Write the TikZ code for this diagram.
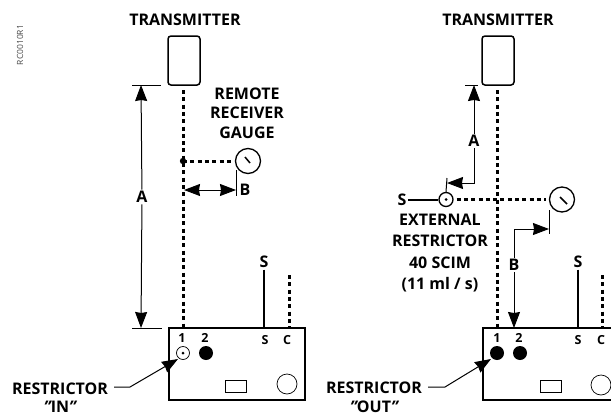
\documentclass[tikz,border=0pt]{standalone}
\usepackage{fontspec}
\setmainfont{Open Sans}
\usepackage{tkz-euclide}
\usetikzlibrary{arrows.meta}
\tikzset{
	lbl/.style={font=\fontsize{16}{17}\selectfont\bfseries,inner sep=1.5pt},
	port/.style={font=\fontsize{12.5}{14}\selectfont\bfseries,inner sep=0pt},
	xmtr/.style={draw,line width=1.5pt,rounded corners=3pt,minimum width=32pt,minimum height=49pt,inner sep=0pt},
	module/.style={draw,line width=1.5pt,minimum width=136pt,minimum height=72pt,inner sep=0pt},
	gauge/.style={draw,circle,line width=1.3pt,minimum size=25pt,inner sep=0pt},
	hole/.style={draw,circle,line width=.7pt,minimum size=20pt,inner sep=0pt},
	lamp/.style={draw,line width=.7pt,minimum width=21pt,minimum height=12pt,inner sep=0pt},
	dotline/.style={line width=3pt,dash pattern=on 4pt off 3.3pt},
	thin line/.style={line width=1pt},
	dim/.style={line width=1pt,-{Stealth[length=16pt,width=12pt,inset=1pt]}},
}
\begin{document}
\begin{tikzpicture}[x=1pt,y=-1pt]
	\useasboundingbox (0,0) rectangle (611,418);
	\node[rotate=90,font=\fontsize{8.5}{9}\selectfont,text=black!70,inner sep=0pt] (code) at (20,45) {RC0010R1};

	% restrictor in
	\node[lbl] (titleL) at (185,20) {TRANSMITTER};
	\node[xmtr] (xmtrL) at (184,60.5) {};
	\node[module] (modL) at (237,364) {};
	\tkzDefPoint(183,90){topL}
	\tkzDefPoint(183,328){oneL}
	\tkzDefPoint(183,161){teeL}
	\draw[dotline] (topL) -- (oneL);
	\node[gauge] (gaugeL) at (248,161) {};
	\draw[dotline,shorten >=3pt] (teeL) -- (gaugeL.west);
	\fill (teeL) circle (3.2pt);
	\tkzDefPoint(245,157){ndlAL}
	\tkzDefPoint(250,163){ndlBL}
	\draw[line width=1.5pt] (ndlAL) -- (ndlBL);
	\node[lbl,align=center,font=\fontsize{16}{19.5}\selectfont\bfseries] (rrg) at (247,113) {REMOTE\\RECEIVER\\GAUGE};

	\node[lbl] (dimAL) at (142,197) {A};
	\tkzDefPoint(141,85){aTopL}
	\tkzDefPoint(141,328){aBotL}
	\tkzDefPoint(132,85){tkAL}
	\tkzDefPoint(161,85){tkBL}
	\tkzDefPoint(132,328){tkCL}
	\tkzDefPoint(162,328){tkDL}
	\draw[thin line] (tkAL) -- (tkBL);
	\draw[thin line] (tkCL) -- (tkDL);
	\draw[dim] (dimAL) -- (aTopL);
	\draw[dim] (dimAL) -- (aBotL);

	\node[lbl] (dimBL) at (245,190) {B};
	\tkzDefPoint(236,170){tkEL}
	\tkzDefPoint(236,196){tkFL}
	\tkzDefPoint(210,190){bMidL}
	\tkzDefPoint(184,190){bLeftL}
	\tkzDefPoint(236,190){bRightL}
	\draw[thin line] (tkEL) -- (tkFL);
	\draw[dim] (bMidL) -- (bLeftL);
	\draw[dim] (bMidL) -- (bRightL);

	\node[lbl] (sL) at (264,262) {S};
	\tkzDefPoint(264,328){sPortL}
	\tkzDefPoint(289,275){cTopL}
	\tkzDefPoint(289,328){cPortL}
	\draw[line width=1.5pt] (sL) -- (sPortL);
	\draw[dotline] (cTopL) -- (cPortL);
	\node[port] (n1L) at (182,338) {1};
	\node[port] (n2L) at (205,338) {2};
	\node[port] (nSL) at (265,340) {S};
	\node[port] (nCL) at (287,340) {C};
	\node[draw,circle,line width=.7pt,minimum size=13pt,inner sep=0pt] (rstL) at (183,353) {};
	\fill (rstL.center) circle (1.5pt);
	\node[circle,fill,minimum size=14pt,inner sep=0pt] (solL) at (206,353) {};
	\node[lamp] (lampL) at (236,386.5) {};
	\node[hole] (holeL) at (287,384) {};
	\node[lbl,align=center,font=\fontsize{16}{18.5}\selectfont\bfseries] (rstTxtL) at (60,397.5) {RESTRICTOR\\{\itshape"}IN{\itshape"}};
	\tkzDefPoint(114,387){ldAL}
	\tkzDefPoint(130,387){ldBL}
	\tkzDefPoint(178,359){ldCL}
	\draw[dim] (ldAL) -- (ldBL) -- (ldCL);

	% restrictor out
	\node[lbl] (titleR) at (498,20) {TRANSMITTER};
	\node[xmtr] (xmtrR) at (498,60.5) {};
	\node[module] (modR) at (551,364) {};
	\tkzDefPoint(497,90){topR}
	\tkzDefPoint(497,328){oneR}
	\draw[dotline] (topR) -- (oneR);
	\node[gauge] (gaugeR) at (562,199.5) {};
	\node[draw,circle,line width=1.3pt,minimum size=14pt,inner sep=0pt] (rstR) at (446,199.5) {};
	\fill (rstR.center) circle (1.5pt);
	\draw[dotline,shorten >=3pt,shorten <=3pt] (rstR.east) -- (gaugeR.west);
	\tkzDefPoint(560,197){ndlAR}
	\tkzDefPoint(567,204){ndlBR}
	\draw[line width=1.5pt] (ndlAR) -- (ndlBR);
	\node[lbl] (sExt) at (402,199.5) {S};
	\draw[line width=2pt] (sExt) -- (rstR);

	\node[lbl] (dimAR) at (474,141) {A};
	\tkzDefPoint(465,85){tkAR}
	\tkzDefPoint(478,85){tkBR}
	\tkzDefPoint(474,85){aTopR}
	\tkzDefPoint(474,183){aElbR}
	\tkzDefPoint(447,183){aEndR}
	\tkzDefPoint(447,178){tkCR}
	\draw[thin line] (tkAR) -- (tkBR);
	\draw[thin line] (tkCR) -- (rstR.north);
	\draw[dim] (dimAR) -- (aTopR);
	\draw[dim] (dimAR) -- (aElbR) -- (aEndR);

	\node[lbl] (dimBR) at (514,265) {B};
	\tkzDefPoint(514,229){bElbR}
	\tkzDefPoint(549,229){bEndR}
	\tkzDefPoint(549,210){tkDR}
	\tkzDefPoint(549,234){tkER}
	\tkzDefPoint(514,328){bBotR}
	\draw[thin line] (tkDR) -- (tkER);
	\draw[dim] (dimBR) -- (bElbR) -- (bEndR);
	\draw[dim] (dimBR) -- (bBotR);

	\node[lbl,align=center,font=\fontsize{16}{21.5}\selectfont\bfseries] (extTxt) at (440,253) {EXTERNAL\\RESTRICTOR\\40 SCIM\\(11 ml / s)};

	\node[lbl] (sR) at (578,262) {S};
	\tkzDefPoint(578,328){sPortR}
	\tkzDefPoint(602,275){cTopR}
	\tkzDefPoint(602,328){cPortR}
	\draw[line width=1.5pt] (sR) -- (sPortR);
	\draw[dotline] (cTopR) -- (cPortR);
	\node[port] (n1R) at (497,338) {1};
	\node[port] (n2R) at (519,338) {2};
	\node[port] (nSR) at (578,340) {S};
	\node[port] (nCR) at (601,340) {C};
	\node[circle,fill,minimum size=14pt,inner sep=0pt] (rstBR) at (497,353) {};
	\node[circle,fill,minimum size=14pt,inner sep=0pt] (solR) at (520,353) {};
	\node[lamp] (lampR) at (550.5,386.5) {};
	\node[hole] (holeR) at (601,385) {};
	\node[lbl,align=center,font=\fontsize{16}{18.5}\selectfont\bfseries] (rstTxtR) at (374,397.5) {RESTRICTOR\\{\itshape"}OUT{\itshape"}};
	\tkzDefPoint(428,387){ldAR}
	\tkzDefPoint(445,387){ldBR}
	\tkzDefPoint(491,359){ldCR}
	\draw[dim] (ldAR) -- (ldBR) -- (ldCR);
\end{tikzpicture}
\end{document}
